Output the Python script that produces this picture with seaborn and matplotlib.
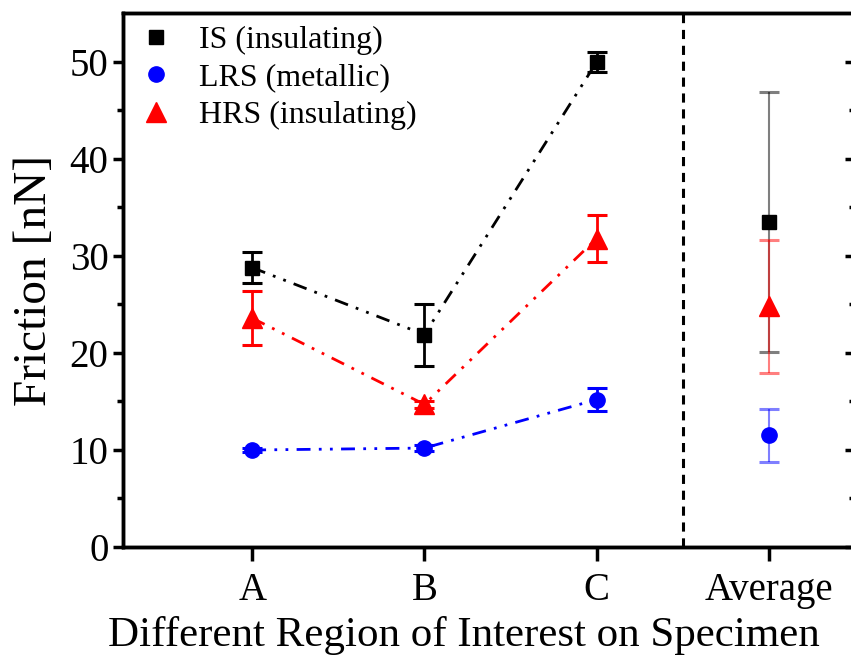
import matplotlib
matplotlib.use("Agg")
import matplotlib.pyplot as plt
import seaborn as sns
import numpy as np
import pandas as pd

categories = ["A", "B", "C", "Average"]
is_vals = [28.8, 21.9, 50.0, 33.5]
is_err = [1.6, 3.2, 1.0, 13.4]
lrs_vals = [10.0, 10.2, 15.2, 11.5]
lrs_err = [0.2, 0.3, 1.2, 2.7]
hrs_vals = [23.6, 14.7, 31.8, 24.8]
hrs_err = [2.8, 0.4, 2.4, 6.9]
series_names = ["IS (insulating)", "LRS (metallic)", "HRS (insulating)"]
y_ticks = [0, 10, 20, 30, 40, 50]

sns.set_style("ticks")
plt.rcParams['font.family'] = ['Liberation Serif', 'DejaVu Serif']
plt.rcParams['text.color'] = 'black'
plt.rcParams['axes.labelcolor'] = 'black'
plt.rcParams['xtick.color'] = 'black'
plt.rcParams['ytick.color'] = 'black'
plt.rcParams['axes.edgecolor'] = 'black'

fig = plt.figure(figsize=(8.51, 6.62), dpi=100)
ax = fig.add_axes([123/851, (662-547)/662, (855-123)/851, (547-13)/662])

xpos = np.arange(1, len(categories) + 1)
rows = []
for name, vals in zip(series_names, [is_vals, lrs_vals, hrs_vals]):
    for x, v in zip(xpos, vals):
        rows.append({"series": name, "x": x, "y": v})
df = pd.DataFrame(rows)

colors = {"IS (insulating)": "black", "LRS (metallic)": "blue", "HRS (insulating)": "red"}
markers = {"IS (insulating)": "s", "LRS (metallic)": "o", "HRS (insulating)": "^"}
msizes = {"IS (insulating)": 10, "LRS (metallic)": 11, "HRS (insulating)": 14}
errs = {"IS (insulating)": is_err, "LRS (metallic)": lrs_err, "HRS (insulating)": hrs_err}

# dash-dot-dot lines through A-C
line_df = df[df["x"] <= 3]
for name in series_names:
    sub = line_df[line_df["series"] == name]
    sns.lineplot(data=sub, x="x", y="y", ax=ax, color=colors[name], lw=2,
                 legend=False, sort=False)
for l in ax.lines:
    l.set_dashes((5, 3, 1, 3, 1, 3))

# error bars
for name in series_names:
    sub = df[df["series"] == name]
    e = errs[name]
    ax.errorbar(sub["x"].values[:3], sub["y"].values[:3], yerr=e[:3], fmt="none",
                ecolor=colors[name], elinewidth=2, capsize=7, capthick=2.2, zorder=3)
    ax.errorbar(sub["x"].values[3:], sub["y"].values[3:], yerr=e[3:], fmt="none",
                ecolor=colors[name], elinewidth=1.5, capsize=7, capthick=2.2,
                alpha=0.5, zorder=3)

# markers
for name in series_names:
    sub = df[df["series"] == name]
    ax.plot(sub["x"], sub["y"], linestyle="none", marker=markers[name],
            color=colors[name], markersize=msizes[name], zorder=4, label=name)

ax.axvline(3.5, color="black", lw=2.2, ls=(0, (3, 2.2)), zorder=2)

ax.set_xlim(0.25, 4.5)
ax.set_ylim(0, 55.05)
ax.set_xticks(xpos)
ax.set_xticklabels(categories)
ax.set_yticks(y_ticks)
ax.set_yticks([5, 15, 25, 35, 45], minor=True)
ax.tick_params(axis="both", which="major", labelsize=28, width=2.5, length=7, direction="out")
ax.tick_params(axis="x", length=10, pad=8)
ax.tick_params(axis="y", which="minor", width=2.5, length=4, direction="out")
for s in ax.spines.values():
    s.set_linewidth(2.5)
    s.set_visible(True)

ax2 = ax.twinx()
ax2.set_ylim(ax.get_ylim())
ax2.set_yticks(y_ticks)
ax2.set_yticks([5, 15, 25, 35, 45], minor=True)
ax2.tick_params(axis="y", which="major", direction="in", length=7, width=2.5, labelright=False)
ax2.tick_params(axis="y", which="minor", direction="in", length=4, width=2.5)
for s in ax2.spines.values():
    s.set_linewidth(2.5)

ax.set_xlabel("Different Region of Interest on Specimen", fontsize=31, labelpad=10)
ax.xaxis.set_label_coords((464 - 123) / 732, -0.13)
ax.set_ylabel("Friction [nN]", fontsize=34, labelpad=10)

leg = ax.legend(loc="upper left", frameon=False, fontsize=23,
                bbox_to_anchor=(-0.018, 1.018), handletextpad=0.6,
                labelspacing=0.25, borderaxespad=0.3, handlelength=1.5)

fig.savefig("out.png", dpi=100)
